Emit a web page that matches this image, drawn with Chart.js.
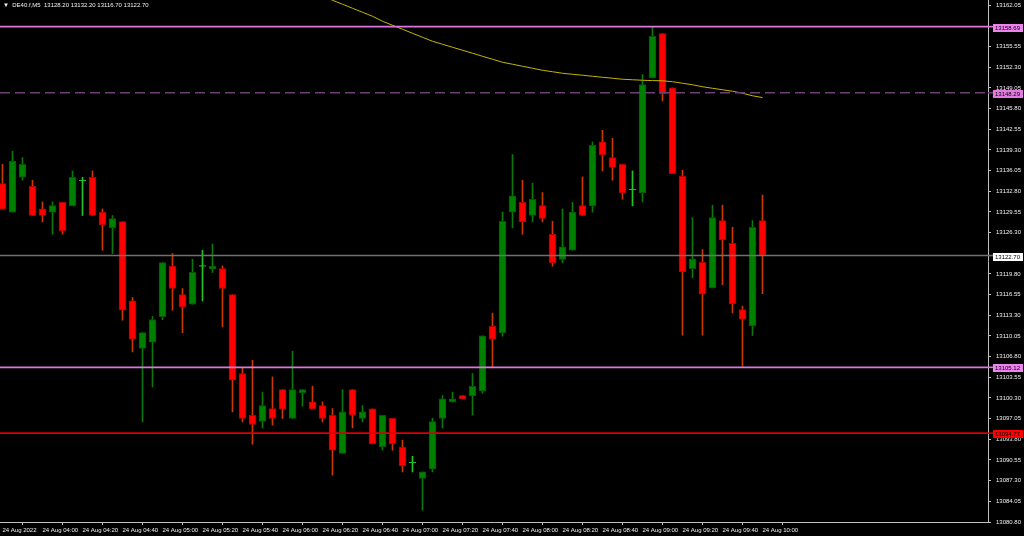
<!DOCTYPE html>
<html>
<head>
<meta charset="utf-8">
<script src="https://cdn.jsdelivr.net/npm/chart.js@4.4.0/dist/chart.umd.min.js"></script>
<style>
  html, body { margin: 0; padding: 0; background: #000; }
  #wrap { position: relative; width: 1024px; height: 536px; }
  #title {
    position: absolute; left: 3px; top: 0; color: #f0f0f0; white-space: pre;
    font: 6px 'Liberation Sans', Arial, sans-serif; line-height: 11px;
  }
</style>
</head>
<body>
<div id="wrap">
  <canvas id="chart" width="1024" height="536"></canvas>
  <div id="title">▼  DE40.f,M5  13128.20 13132.20 13116.70 13122.70</div>
</div>
<script>
// DE40 M5 candles, 24 Aug 2022 03:40 .. 10:00
const opens = [13134.02,13129.51,13135.01,13133.59,13130.03,13129.51,13131.08,13130.50,13134.49,13135.01,
  13129.51,13127.04,13128.04,13115.56,13108.08,13109.07,13113.08,13121.06,13116.57,13115.04,
  13121.06,13120.54,13120.65,13116.57,13104.15,13097.59,13096.60,13098.64,13101.63,13097.07,
  13101.10,13099.68,13099.11,13097.59,13091.57,13101.63,13097.07,13098.58,13092.60,13097.12,
  13092.60,13090.15,13087.64,13089.15,13097.07,13099.68,13100.69,13100.62,13101.36,13111.58,
  13110.53,13129.51,13131.08,13128.99,13130.56,13126.05,13122.07,13123.53,13130.56,13130.50,
  13140.56,13138.11,13137.05,13133.08,13132.54,13150.62,13157.60,13149.05,13135.17,13120.65,
  13121.65,13117.60,13128.20,13124.63,13114.21,13111.63,13128.20];
const highs = [13137.05,13139.10,13138.11,13134.54,13131.13,13131.13,13131.08,13136.00,13135.01,13136.00,
  13130.03,13128.99,13128.04,13116.10,13110.59,13113.15,13121.60,13123.01,13117.51,13122.12,
  13123.53,13124.52,13121.06,13116.57,13105.09,13106.24,13101.21,13103.61,13101.63,13107.65,
  13101.63,13102.15,13099.68,13098.64,13101.63,13101.63,13099.11,13098.58,13097.59,13097.12,
  13093.66,13091.14,13088.67,13097.12,13100.69,13101.21,13100.69,13104.15,13110.06,13113.63,
  13129.55,13138.58,13134.54,13134.07,13132.60,13128.09,13130.03,13131.08,13135.06,13140.56,
  13142.40,13141.14,13137.05,13136.00,13151.16,13158.64,13157.60,13149.05,13136.11,13128.67,
  13123.64,13130.61,13130.61,13127.15,13114.73,13128.20,13132.20];
const lows = [13129.98,13129.51,13134.54,13128.99,13127.98,13126.05,13126.05,13130.50,13128.99,13128.99,
  13123.53,13123.01,13112.53,13107.54,13096.53,13102.04,13112.60,13114.10,13110.56,13115.04,
  13115.56,13120.03,13111.47,13098.11,13096.53,13093.03,13095.59,13096.02,13097.07,13097.07,
  13099.00,13098.58,13096.53,13088.15,13091.57,13095.59,13096.53,13093.08,13092.09,13092.09,
  13088.67,13088.67,13082.65,13088.67,13095.59,13099.68,13100.15,13097.59,13101.05,13105.03,
  13110.01,13127.04,13126.05,13127.98,13127.98,13121.02,13121.54,13123.53,13128.99,13129.51,
  13136.00,13134.54,13131.55,13130.50,13131.13,13150.62,13147.01,13135.56,13110.17,13119.18,
  13110.17,13117.60,13118.11,13113.67,13105.29,13110.12,13116.70];
const closes = [13129.98,13137.57,13137.05,13128.99,13128.99,13130.56,13126.57,13135.01,13134.49,13128.99,
  13127.51,13128.52,13114.10,13109.54,13110.59,13112.64,13121.60,13117.51,13114.62,13120.07,
  13121.06,13121.06,13117.51,13103.09,13097.07,13096.13,13099.11,13097.07,13098.53,13101.63,
  13101.63,13098.58,13097.07,13092.09,13098.11,13097.59,13098.11,13093.08,13097.59,13093.08,
  13089.62,13090.15,13088.67,13096.60,13100.15,13100.15,13100.15,13102.15,13110.06,13109.54,
  13128.09,13132.07,13127.98,13131.55,13128.52,13121.54,13124.05,13129.55,13128.99,13140.04,
  13138.52,13136.54,13132.54,13133.08,13149.59,13157.18,13148.11,13135.56,13120.12,13122.20,
  13116.61,13128.67,13125.15,13115.09,13112.68,13127.15,13122.70];

// moving average, starting at candle 32
const maStart = 32;
const maValues = [13163.47,13162.84,13162.21,13161.58,13160.95,13160.32,13159.54,13158.91,13158.28,13157.65,
  13157.02,13156.39,13155.92,13155.45,13154.98,13154.51,13154.03,13153.56,13153.09,13152.78,
  13152.46,13152.15,13151.83,13151.60,13151.36,13151.20,13151.05,13150.89,13150.73,13150.58,
  13150.42,13150.34,13150.26,13150.21,13150.18,13150.03,13149.79,13149.55,13149.24,13149.00,
  13148.77,13148.53,13148.22,13147.82,13147.54];

// horizontal levels
const levelPrices = [13158.69, 13148.29, 13122.70, 13105.12, 13094.77];

const priceTicks = [13080.80,13084.05,13087.30,13090.55,13093.80,13097.05,13100.30,13103.55,13106.80,
  13110.05,13113.30,13116.55,13119.80,13126.30,13129.55,13132.80,13136.05,13139.30,13142.55,
  13145.80,13149.05,13152.30,13155.55,13162.05];

const timeLabels = ['24 Aug 2022','24 Aug 04:00','24 Aug 04:20','24 Aug 04:40','24 Aug 05:00',
  '24 Aug 05:20','24 Aug 05:40','24 Aug 06:00','24 Aug 06:20','24 Aug 06:40','24 Aug 07:00',
  '24 Aug 07:20','24 Aug 07:40','24 Aug 08:00','24 Aug 08:20','24 Aug 08:40','24 Aug 09:00',
  '24 Aug 09:20','24 Aug 09:40','24 Aug 10:00'];

const FONT = "'Liberation Sans', Arial, sans-serif";
const levelStyles = [
  { line: '#dd77dd', tag: '#ee82ee', text: '#000', dash: [] },
  { line: '#6e4076', tag: '#e27ae2', text: '#000', dash: [10, 5] },
  { line: '#707070', tag: '#ffffff', text: '#000', dash: [] },
  { line: '#dd77dd', tag: '#ee82ee', text: '#000', dash: [] },
  { line: '#d80000', tag: '#ff0000', text: '#000', dash: [] }
];

const isDoji = i => opens[i] === closes[i];
const wickColor = i => isDoji(i) ? '#22c422' : (closes[i] > opens[i] ? '#0a780a' : '#c83a00');

const wickData = opens.map((o, i) => ({ x: i, y: [lows[i], highs[i]] }));
const bodyData = opens.map((o, i) => ({ x: i, y: [o, closes[i]] })).filter(d => !isDoji(d.x));
const dojiData = opens.map((o, i) => ({ x: i, y: o })).filter(d => isDoji(d.x));
const maData = maValues.map((v, k) => ({ x: maStart + k, y: v }));

const X_MIN = -0.25, X_MAX = 98.55;

const levelDatasets = levelPrices.map((p, k) => ({
  type: 'line', order: 0,
  data: [{ x: X_MIN, y: p }, { x: X_MAX, y: p }],
  borderColor: levelStyles[k].line, borderWidth: 1.6, borderDash: levelStyles[k].dash,
  pointRadius: 0
}));

// price tags on the right scale
const levelTags = {
  id: 'levelTags',
  afterDraw(chart) {
    const { ctx, scales: { y }, chartArea } = chart;
    ctx.save();
    ctx.font = '6px ' + FONT;
    ctx.textBaseline = 'middle';
    levelPrices.forEach((p, k) => {
      const py = y.getPixelForValue(p);
      ctx.strokeStyle = levelStyles[k].line;
      ctx.lineWidth = 1.6;
      ctx.beginPath();
      ctx.moveTo(chartArea.right, py);
      ctx.lineTo(994, py);
      ctx.stroke();
      ctx.fillStyle = levelStyles[k].tag;
      ctx.fillRect(993, Math.round(py) - 3, 30, 8);
      ctx.fillStyle = levelStyles[k].text;
      ctx.fillText(p.toFixed(2), 995, Math.round(py) + 1);
    });
    ctx.restore();
  }
};

new Chart(document.getElementById('chart'), {
  type: 'bar',
  data: {
    datasets: [
      ...levelDatasets,
      {
        type: 'line', order: 1, data: maData,
        borderColor: '#c4b600', borderWidth: 1, pointRadius: 0, tension: 0
      },
      {
        type: 'line', order: 1, data: dojiData, showLine: false,
        pointStyle: 'line', pointRadius: 3.5, pointBorderColor: '#22c422', pointBorderWidth: 1
      },
      {
        type: 'bar', order: 2, grouped: false, data: bodyData, barThickness: 7,
        backgroundColor: c => c.raw.y[1] > c.raw.y[0] ? '#008000' : '#ff0000',
        borderColor: c => c.raw.y[1] > c.raw.y[0] ? '#0b4f0b' : '#b00000',
        borderWidth: 1, borderSkipped: false
      },
      {
        type: 'bar', order: 3, grouped: false, data: wickData, barThickness: 1,
        backgroundColor: c => wickColor(c.raw.x), borderWidth: 0
      }
    ]
  },
  options: {
    responsive: false,
    animation: false,
    events: [],
    layout: { padding: 0, autoPadding: false },
    plugins: { legend: { display: false }, tooltip: { enabled: false } },
    scales: {
      x: {
        type: 'linear', offset: false, min: X_MIN, max: X_MAX,
        afterBuildTicks(s) { s.ticks = timeLabels.map((t, k) => ({ value: k * 4 })); },
        afterFit(s) { s.height = 14; s.paddingLeft = 0; s.paddingRight = 0; },
        ticks: {
          color: '#f0f0f0', font: { family: FONT, size: 6 }, padding: 2,
          autoSkip: false, maxRotation: 0, align: 'start',
          callback: (v, k) => timeLabels[k]
        },
        grid: { drawOnChartArea: false, drawTicks: true, tickLength: 3, color: '#c0c0c0' },
        border: { display: true, color: '#c0c0c0' }
      },
      y: {
        position: 'right', min: 13080.80, max: 13162.88,
        afterBuildTicks(s) { s.ticks = priceTicks.map(v => ({ value: v })); },
        afterFit(s) { s.width = 36; s.paddingTop = 0; s.paddingBottom = 0; },
        ticks: {
          color: '#f0f0f0', font: { family: FONT, size: 6 }, padding: 5,
          callback: v => v.toFixed(2)
        },
        grid: { drawOnChartArea: false, drawTicks: true, tickLength: 3, color: '#c0c0c0' },
        border: { display: true, color: '#c0c0c0' }
      }
    }
  },
  plugins: [levelTags]
});
</script>
</body>
</html>
